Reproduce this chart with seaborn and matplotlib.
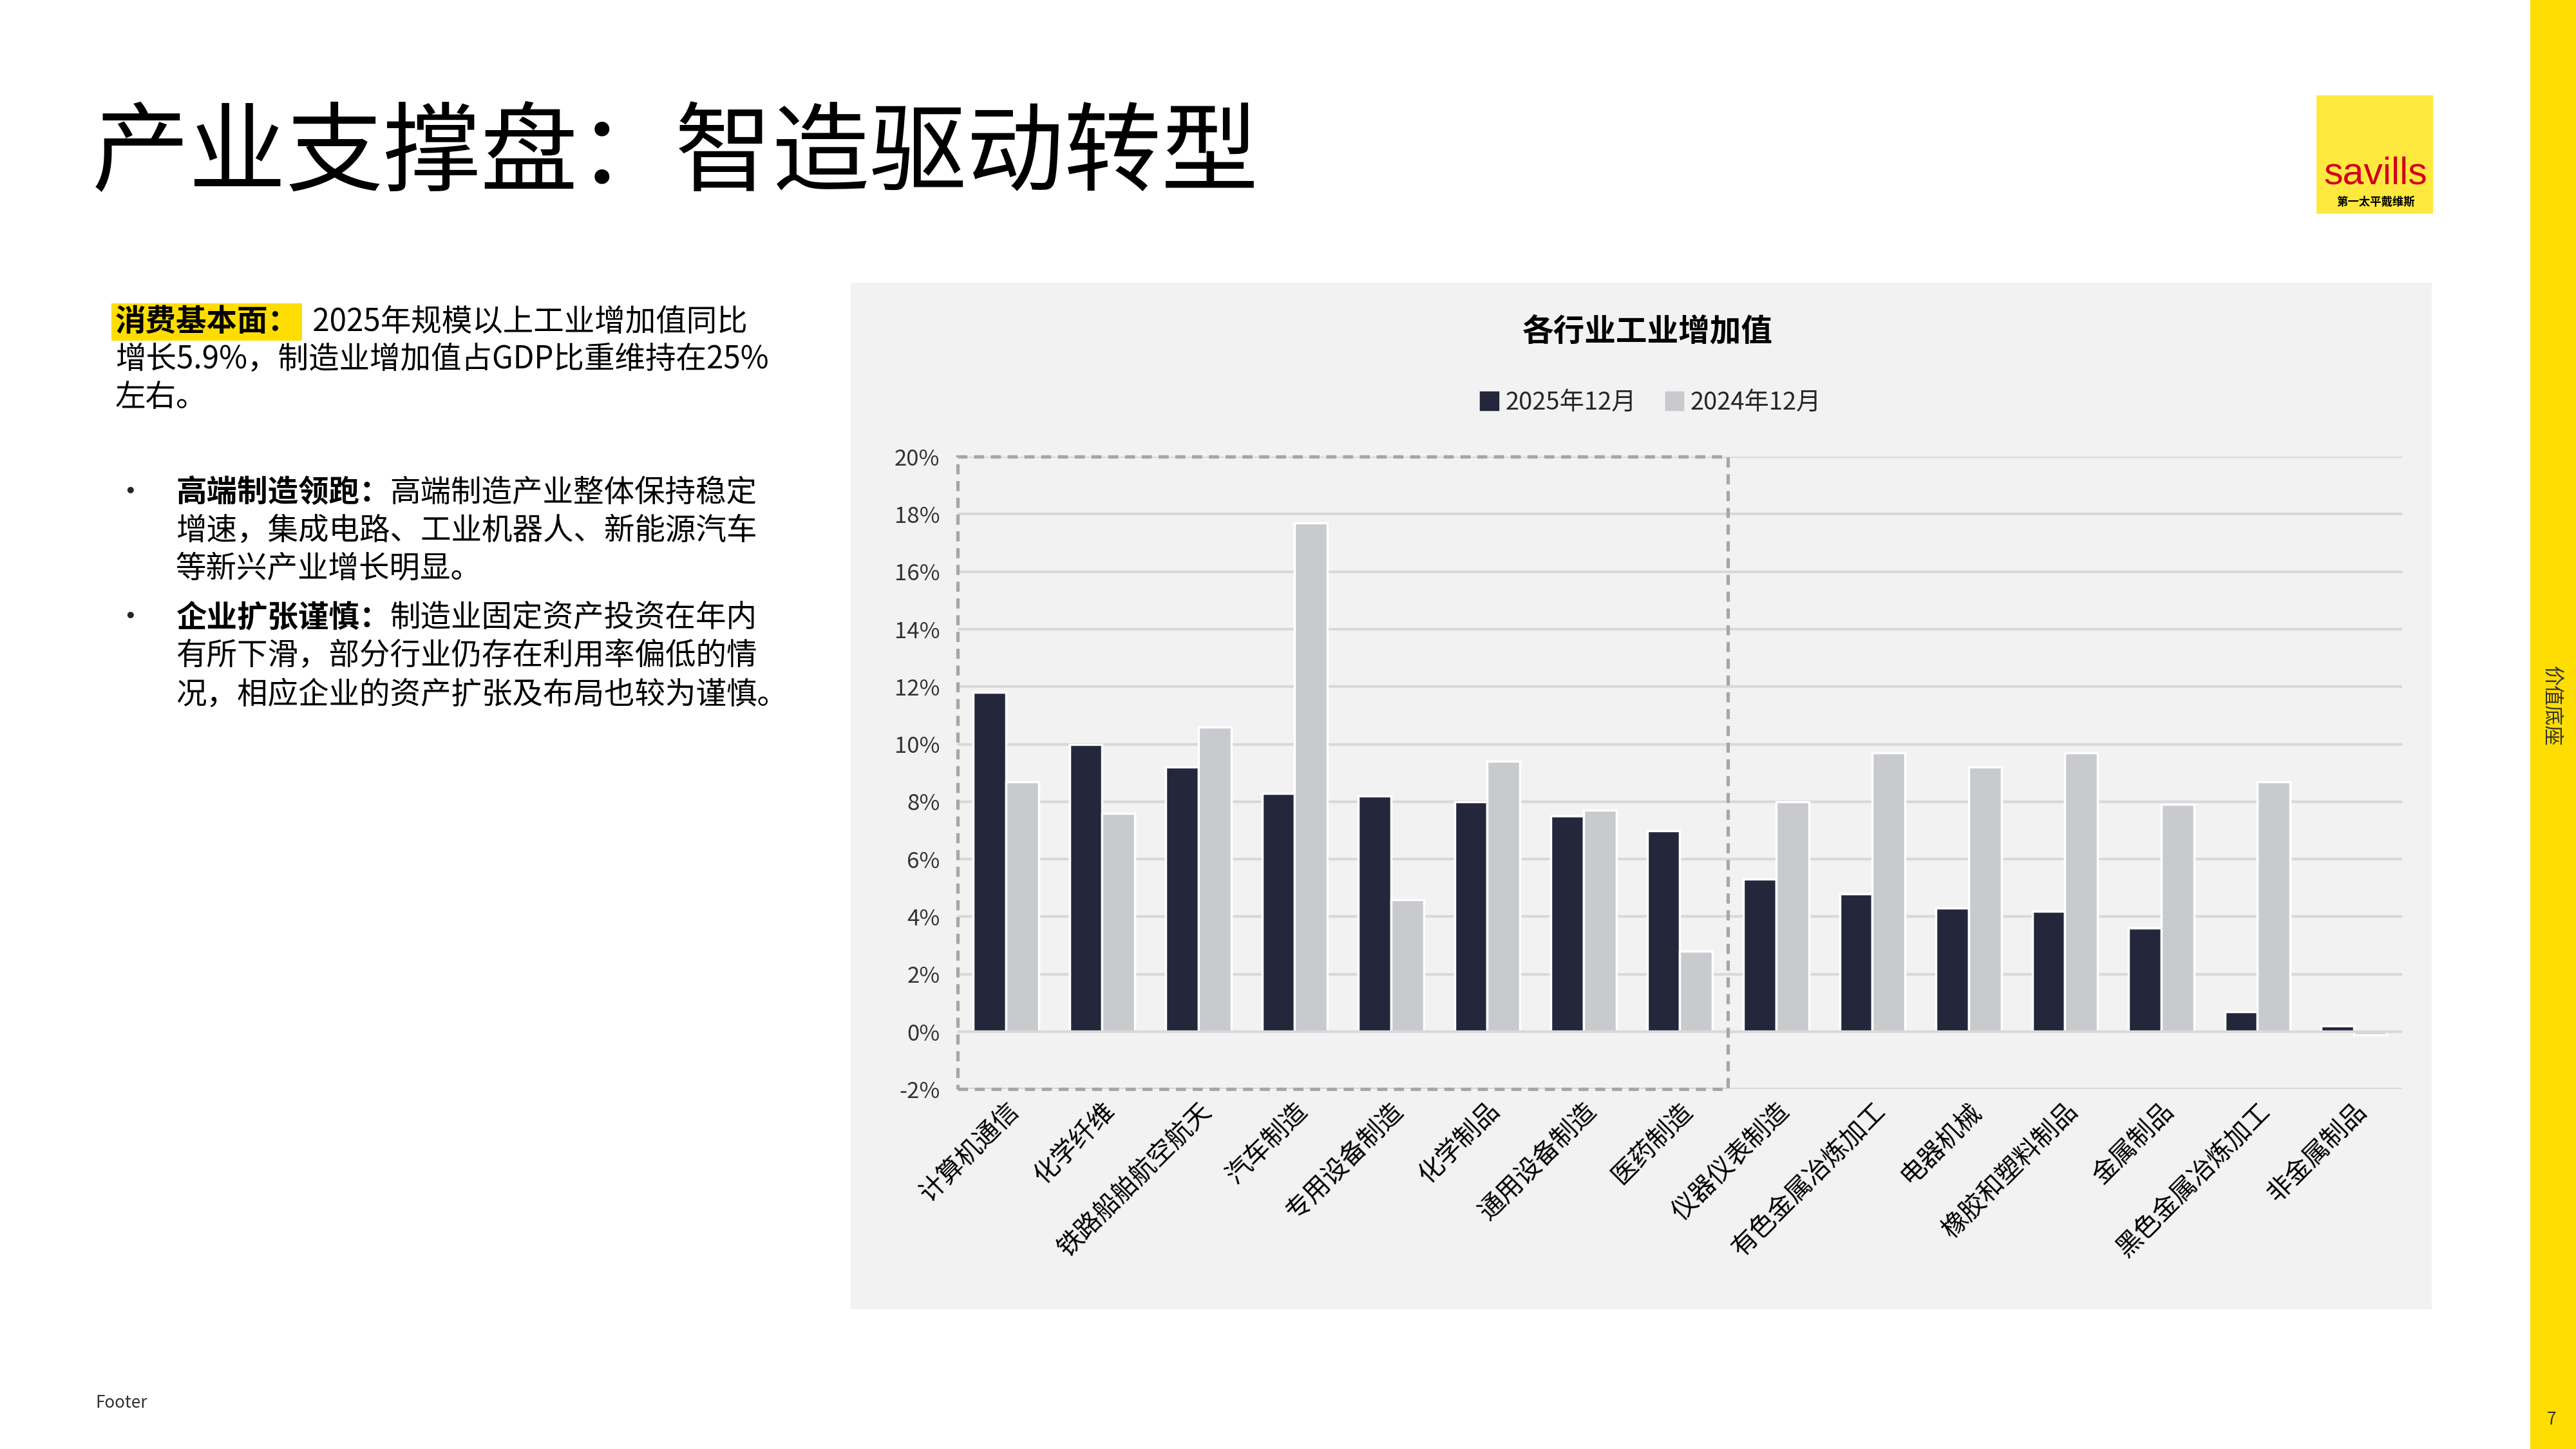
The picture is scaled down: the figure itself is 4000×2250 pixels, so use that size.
import pandas as pd
import matplotlib.pyplot as plt
import matplotlib.patches as mpatches
import seaborn as sns

categories = ['计算机通信', '化学纤维', '铁路船舶航空航天', '汽车制造', '专用设备制造', '化学制品',
              '通用设备制造', '医药制造', '仪器仪表制造', '有色金属冶炼加工', '电器机械',
              '橡胶和塑料制品', '金属制品', '黑色金属冶炼加工', '非金属制品']
v2025 = [11.8, 10.0, 9.2, 8.3, 8.2, 8.0, 7.5, 7.0, 5.3, 4.8, 4.3, 4.2, 3.6, 0.7, 0.2]
v2024 = [8.7, 7.6, 10.6, 17.7, 4.6, 9.4, 7.7, 2.8, 8.0, 9.7, 9.2, 9.7, 7.9, 8.7, -0.1]
series = ['2025年12月', '2024年12月']
yticks = list(range(-2, 21, 2))

df = pd.DataFrame({'行业': categories, series[0]: v2025, series[1]: v2024})
df_m = df.melt(id_vars='行业', var_name='期间', value_name='增速')

sns.set_theme(style='white')
plt.rcParams['font.family'] = ['Noto Sans CJK SC', 'DejaVu Sans']

DARK = '#24273B'
LIGHT = '#C8CACE'
W, H = 1568, 882

fig = plt.figure(figsize=(16, 9), dpi=250)
fig.patch.set_facecolor('white')

def fx(x):
    return x / W

def fy(y):
    return 1 - y / H

# chart panel background
fig.patches.append(mpatches.Rectangle((fx(518), fy(797)), fx(1480 - 518), (797 - 172) / H,
                                      transform=fig.transFigure, facecolor='#F2F2F2',
                                      edgecolor='none', zorder=0))
# right yellow strip
fig.patches.append(mpatches.Rectangle((fx(1540), 0), fx(28), 1, transform=fig.transFigure,
                                      facecolor='#FFDD00', edgecolor='none', zorder=0))
fig.text(fx(1553), fy(430), '价值底座', rotation=-90, ha='center', va='center', fontsize=9, color='#333333')
fig.text(fx(1553), fy(864), '7', ha='center', va='center', fontsize=7.5, color='#333333')
fig.text(fx(58), fy(854), 'Footer', ha='left', va='center', fontsize=7.5, color='#333333')

# logo
fig.patches.append(mpatches.Rectangle((fx(1410), fy(130)), fx(71), 72 / H, transform=fig.transFigure,
                                      facecolor='#FFE93F', edgecolor='none'))
fig.text(fx(1446), fy(106), 'savills', ha='center', va='center', fontsize=17, color='#D0021B',
         family=['Liberation Sans', 'DejaVu Sans'])
fig.text(fx(1446), fy(123), '第一太平戴维斯', ha='center', va='center', fontsize=5, color='black',
         fontweight='bold')

# page title
fig.text(fx(56), fy(95), '产业支撑盘：智造驱动转型', ha='left', va='center', fontsize=43.5, color='black')

# left text block
renderer = fig.canvas.get_renderer()
fs = 13.7

def line(x, y, parts):
    for txt, bold, hl in parts:
        t = fig.text(fx(x), fy(y), txt, ha='left', va='center', fontsize=fs, color='black',
                     fontweight='bold' if bold else 'normal')
        if hl:
            t.set_bbox(dict(facecolor='#FFDD00', edgecolor='none', pad=1.5))
        bb = t.get_window_extent(renderer=renderer)
        x += bb.width / fig.bbox.width * W

line(70, 196, [('消费基本面：', True, True), ('  2025年规模以上工业增加值同比', False, False)])
line(70, 219, [('增长5.9%，制造业增加值占GDP比重维持在25%', False, False)])
line(70, 242, [('左右。', False, False)])
fig.text(fx(70), fy(300), '•', ha='left', va='center', fontsize=fs)
line(107, 300, [('高端制造领跑：', True, False), ('高端制造产业整体保持稳定', False, False)])
line(107, 323, [('增速，集成电路、工业机器人、新能源汽车', False, False)])
line(107, 346, [('等新兴产业增长明显。', False, False)])
fig.text(fx(70), fy(376), '•', ha='left', va='center', fontsize=fs)
line(107, 376, [('企业扩张谨慎：', True, False), ('制造业固定资产投资在年内', False, False)])
line(107, 399, [('有所下滑，部分行业仍存在利用率偏低的情', False, False)])
line(107, 423, [('况，相应企业的资产扩张及布局也较为谨慎。', False, False)])

# chart
ax = fig.add_axes([fx(583), fy(663), fx(1462 - 583), (663 - 278) / H])
ax.set_zorder(2)
ax.set_facecolor('none')
sns.barplot(data=df_m, x='行业', y='增速', hue='期间', hue_order=series,
            palette=[DARK, LIGHT], width=0.68, saturation=1, ax=ax, legend=False)
ax.set_ylim(-2, 20)
ax.set_xlim(-0.5, len(categories) - 0.5)
ax.set_yticks(yticks)
ax.set_yticklabels([f'{t}%' for t in yticks], fontsize=10, color='#333333')
ax.yaxis.grid(True, color='#D9D9D9', linewidth=1.2)
ax.set_axisbelow(True)
ax.axhline(0, color='#D9D9D9', linewidth=1.2, zorder=1)
for s in ax.spines.values():
    s.set_visible(False)
ax.tick_params(axis='y', length=0, pad=8)
ax.tick_params(axis='x', length=0, pad=4)
ax.set_xticks(range(len(categories)))
ax.set_xticklabels(categories, rotation=45, ha='right', rotation_mode='anchor', fontsize=11.5, color='black')
ax.set_xlabel('')
ax.set_ylabel('')

ax.add_patch(mpatches.Rectangle((-0.5, -2), 8, 22, fill=False, edgecolor='#A6A6A6',
                                linestyle=(0, (3, 2)), linewidth=1.5, zorder=5, clip_on=False))

fig.text(fx(1003), fy(202), '各行业工业增加值', ha='center', va='center', fontsize=14,
         fontweight='bold', color='black')
handles = [mpatches.Patch(color=DARK, label=series[0]), mpatches.Patch(color=LIGHT, label=series[1])]
fig.legend(handles=handles, loc='center', bbox_to_anchor=(fx(1005), fy(245)), ncol=2, frameon=False,
           fontsize=11, handlelength=0.7, handleheight=0.7, handletextpad=0.3, columnspacing=1.2)

fig.savefig('out.png', dpi=250)
